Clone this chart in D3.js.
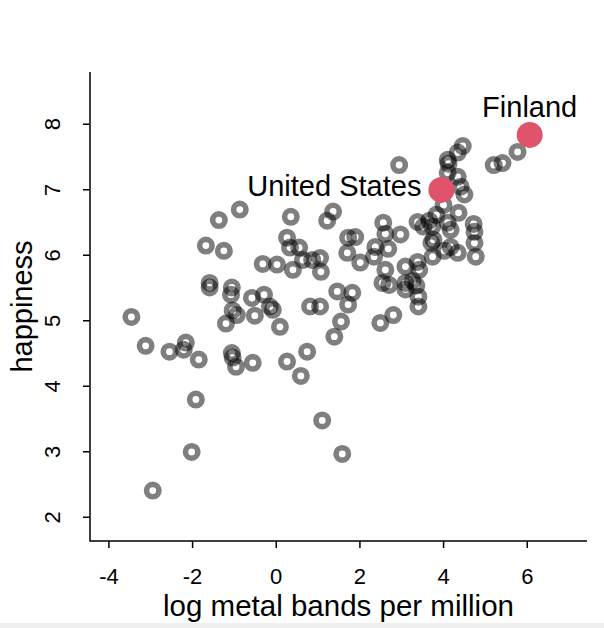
<!DOCTYPE html>
<html>
<head>
<meta charset="utf-8">
<script src="https://cdn.jsdelivr.net/npm/d3@7"></script>
<style>
body { margin: 0; background: #fff; }
text { font-family: "Liberation Sans", Arial, sans-serif; fill: #000; }
</style>
</head>
<body>
<svg id="chart"></svg>
<script>
var width = 604, height = 628
var box = {left: 90, right: 587, top: 72, bottom: 541}

// log metal bands per million (x) and happiness score (y), one entry per country
var metalBands = [
  -3.45, -3.11, -2.54, -2.15, -2.20, -1.84, -1.91, -2.01, -2.94, -1.36,
  -0.86, -1.67, -1.24, -1.58, -1.58, -1.05, -1.07, -0.57, -0.28, -1.03,
  -0.93, -1.19, -0.50, -0.14, -0.07, 0.10, -1.05, -1.03, -0.95, -0.55,
  0.27, 0.75, 0.60, 1.11, 1.59, 0.36, 1.37, 1.23, 0.27, 0.34,
  0.56, 0.65, 0.87, 1.06, 0.41, 1.08, -0.31, 0.03, 1.73, 1.90,
  1.71, 2.02, 2.38, 2.35, 1.47, 1.83, 1.73, 1.06, 0.82, 1.56,
  1.40, 2.95, 4.47, 4.35, 4.11, 4.13, 4.11, 4.35, 4.42, 4.51,
  5.21, 5.42, 5.78, 4.01, 4.37, 3.84, 4.73, 2.57, 2.62, 2.98,
  3.39, 3.67, 3.74, 3.53, 4.11, 4.18, 4.75, 4.75, 3.72, 3.77,
  4.03, 4.18, 4.35, 3.75, 4.78, 2.69, 3.39, 3.10, 3.43, 2.62,
  2.55, 2.71, 3.10, 3.27, 3.36, 3.10, 3.41, 3.41, 2.81, 2.50
]
var happiness = [
  5.05, 4.61, 4.52, 4.66, 4.55, 4.40, 3.79, 2.99, 2.40, 6.53,
  6.69, 6.14, 6.06, 5.57, 5.50, 5.50, 5.39, 5.34, 5.39, 5.15,
  5.08, 4.95, 5.07, 5.21, 5.16, 4.90, 4.50, 4.43, 4.29, 4.35,
  4.37, 4.52, 4.15, 3.47, 2.96, 6.58, 6.66, 6.52, 6.26, 6.11,
  6.11, 5.92, 5.92, 5.95, 5.77, 5.74, 5.86, 5.85, 6.26, 6.27,
  6.03, 5.88, 6.12, 5.97, 5.44, 5.42, 5.24, 5.21, 5.21, 4.98,
  4.75, 7.37, 7.66, 7.56, 7.45, 7.39, 7.25, 7.19, 7.04, 6.92,
  7.37, 7.40, 7.57, 6.76, 6.64, 6.61, 6.47, 6.49, 6.32, 6.31,
  6.50, 6.52, 6.43, 6.43, 6.49, 6.38, 6.35, 6.18, 6.18, 6.23,
  6.06, 6.12, 6.03, 5.97, 5.97, 6.09, 5.89, 5.82, 5.77, 5.77,
  5.57, 5.54, 5.57, 5.60, 5.53, 5.47, 5.36, 5.21, 5.08, 4.96
]

// highlighted countries
var labelled = ["Finland", "United States"]
var labelledMetal = [6.07, 3.96]
var labelledHappiness = [7.83, 6.99]

var xTicks = [-4, -2, 0, 2, 4, 6]
var yTicks = [2, 3, 4, 5, 6, 7, 8]

var svg = d3.select("#chart").attr("width", width).attr("height", height)

var x = d3.scaleLinear().domain([-4.44, 7.44]).range([box.left, box.right])
var y = d3.scaleLinear().domain([1.63, 8.79]).range([box.bottom, box.top])

var points = metalBands.map(function(d, i) { return {x: d, y: happiness[i]} })

// hollow rings, semi transparent so overlaps get darker
svg.append("g")
  .selectAll("circle")
  .data(points)
  .enter()
  .append("circle")
  .attr("cx", d => x(d.x))
  .attr("cy", d => y(d.y))
  .attr("r", 6.2)
  .attr("fill", "none")
  .attr("stroke", "#000")
  .attr("stroke-opacity", 0.5)
  .attr("stroke-width", 5.6)

var hi = labelled.map(function(name, i) {
  return {name: name, x: labelledMetal[i], y: labelledHappiness[i]}
})

svg.append("g")
  .selectAll("circle")
  .data(hi)
  .enter()
  .append("circle")
  .attr("cx", d => x(d.x))
  .attr("cy", d => y(d.y))
  .attr("r", 13)
  .attr("fill", "#DF536B")

// Finland label above the point, United States to the left
svg.append("g")
  .selectAll("text")
  .data(hi)
  .enter()
  .append("text")
  .attr("x", d => d.name == "Finland" ? x(d.x) : x(d.x) - 20)
  .attr("y", d => d.name == "Finland" ? y(d.y) - 18 : y(d.y) + 6)
  .attr("text-anchor", d => d.name == "Finland" ? "middle" : "end")
  .style("font-size", "29px")
  .text(d => d.name)

// L shaped frame
svg.append("path")
  .attr("d", "M" + box.left + "," + box.top + "V" + box.bottom + "H" + box.right)
  .attr("fill", "none")
  .attr("stroke", "#000")
  .attr("stroke-width", 1.5)

// plain hyphen for negatives, like the original
var plain = d => String(d)

// x axis ticks and labels
var xAxis = svg.append("g")
  .attr("transform", "translate(0," + box.bottom + ")")
  .call(d3.axisBottom(x).tickValues(xTicks).tickFormat(plain).tickSize(7).tickPadding(20))
xAxis.select(".domain").remove()
xAxis.selectAll("line").attr("stroke-width", 1.5)
xAxis.selectAll("text").style("font-size", "22px").attr("font-family", null)

// y axis: R style labels, turned parallel to the axis
var yAxis = svg.append("g")
  .attr("transform", "translate(" + box.left + ",0)")
  .call(d3.axisLeft(y).tickValues(yTicks).tickFormat(plain).tickSize(7))
yAxis.select(".domain").remove()
yAxis.selectAll("line").attr("stroke-width", 1.5)
yAxis.selectAll("text")
  .attr("x", null).attr("dy", null)
  .attr("text-anchor", "middle")
  .attr("transform", "translate(-30,0) rotate(-90)")
  .style("font-size", "22px")
  .attr("font-family", null)

// axis titles
svg.append("text")
  .attr("x", (box.left + box.right) / 2)
  .attr("y", 616)
  .attr("text-anchor", "middle")
  .style("font-size", "29.5px")
  .text("log metal bands per million")

svg.append("text")
  .attr("transform", "translate(32," + (box.top + box.bottom) / 2 + ") rotate(-90)")
  .attr("text-anchor", "middle")
  .style("font-size", "29px")
  .text("happiness")

// light strip at the bottom edge of the screenshot
svg.append("rect")
  .attr("x", 0).attr("y", 623).attr("width", width).attr("height", 5)
  .attr("fill", "#f0f0f0")
</script>
</body>
</html>
